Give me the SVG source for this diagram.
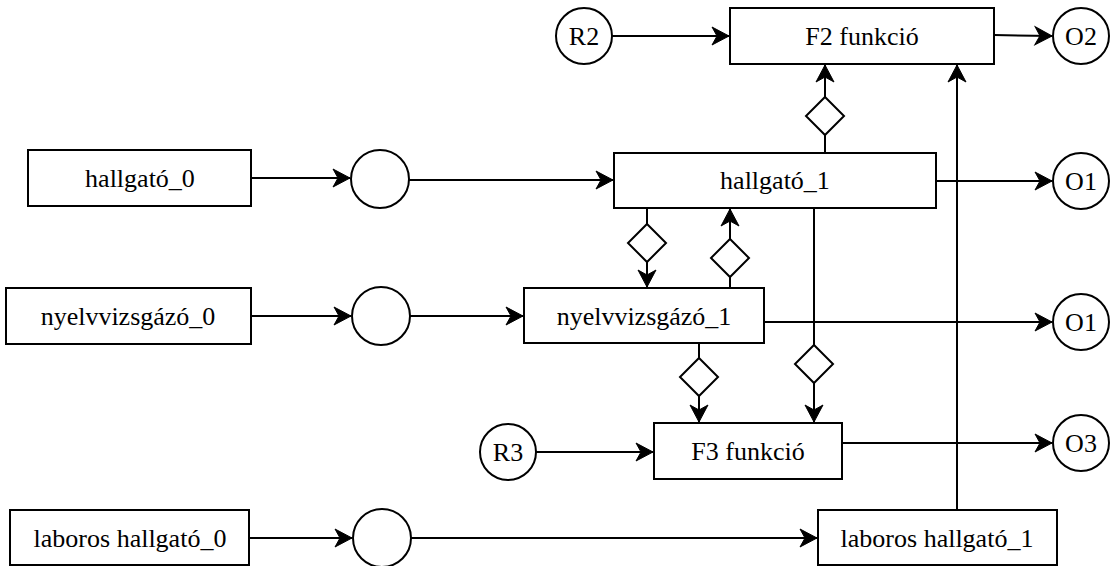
<svg xmlns="http://www.w3.org/2000/svg" width="1112" height="566" viewBox="0 0 1112 566">
<defs>
<marker id="arr" markerUnits="userSpaceOnUse" markerWidth="20" markerHeight="20" refX="17" refY="9" orient="auto" overflow="visible">
<path d="M0,0 L17,9 L0,18 L5,9 Z" fill="#000" stroke="#000" stroke-width="1"/>
</marker>
</defs>
<style>
.box{fill:#fff;stroke:#000;stroke-width:2}
.c{fill:#fff;stroke:#000;stroke-width:2}
.d{fill:#fff;stroke:#000;stroke-width:2}
.t{font-family:"Liberation Serif","Times New Roman",serif;font-size:26px;fill:#000;text-anchor:middle}
.e{fill:none;stroke:#000;stroke-width:2}
.a{marker-end:url(#arr)}
</style>
<rect width="1112" height="566" fill="#fff"/>
<g id="connectors">
<line class="e a" x1="612" y1="36" x2="729" y2="36"/>
<line class="e a" x1="994" y1="35" x2="1052" y2="36"/>
<line class="e" x1="825" y1="153" x2="825" y2="135"/>
<line class="e a" x1="825" y1="97" x2="825" y2="65"/>
<line class="e a" x1="957" y1="510" x2="957" y2="65"/>
<line class="e a" x1="251" y1="178" x2="350" y2="178"/>
<line class="e a" x1="409" y1="180" x2="613" y2="180"/>
<line class="e a" x1="936" y1="181" x2="1052" y2="181"/>
<line class="e" x1="647" y1="208" x2="647" y2="224"/>
<line class="e a" x1="647" y1="262" x2="647" y2="287"/>
<line class="e" x1="730" y1="288" x2="730" y2="277"/>
<line class="e a" x1="730" y1="239" x2="730" y2="209"/>
<line class="e" x1="814" y1="208" x2="814" y2="345"/>
<line class="e a" x1="814" y1="383" x2="814" y2="422"/>
<line class="e a" x1="251" y1="316" x2="351" y2="316"/>
<line class="e a" x1="410" y1="316" x2="523" y2="316"/>
<line class="e a" x1="764" y1="322" x2="1052" y2="322"/>
<line class="e" x1="699" y1="343" x2="699" y2="358"/>
<line class="e a" x1="699" y1="396" x2="699" y2="422"/>
<line class="e a" x1="536" y1="452" x2="653" y2="452"/>
<line class="e a" x1="842" y1="443" x2="1052" y2="443"/>
<line class="e a" x1="249" y1="538" x2="352" y2="538"/>
<line class="e a" x1="411" y1="538" x2="817" y2="538"/>
<path class="d" d="M825,97 L844,116 L825,135 L806,116 Z"/>
<path class="d" d="M647,224 L666,243 L647,262 L628,243 Z"/>
<path class="d" d="M730,239 L749,258 L730,277 L711,258 Z"/>
<path class="d" d="M814,345 L833,364 L814,383 L795,364 Z"/>
<path class="d" d="M699,358 L718,377 L699,396 L680,377 Z"/>
</g>
<g id="R2"><circle class="c" cx="584" cy="36" r="28"/><text class="t" x="584" y="45">R2</text></g>
<g id="F2"><rect class="box" x="730" y="8" width="264" height="56"/><text class="t" x="862" y="45">F2 funkció</text></g>
<g id="O2"><circle class="c" cx="1081" cy="36" r="28"/><text class="t" x="1081" y="45">O2</text></g>
<g id="hallgato0"><rect class="box" x="28" y="150" width="223" height="56"/><text class="t" x="140" y="187">hallgató_0</text></g>
<g id="j1"><circle class="c" cx="380" cy="179" r="29"/></g>
<g id="hallgato1"><rect class="box" x="614" y="153" width="322" height="55"/><text class="t" x="775" y="189">hallgató_1</text></g>
<g id="O1a"><circle class="c" cx="1081" cy="181" r="28"/><text class="t" x="1081" y="190">O1</text></g>
<g id="nyelv0"><rect class="box" x="6" y="288" width="245" height="56"/><text class="t" x="128" y="325">nyelvvizsgázó_0</text></g>
<g id="j2"><circle class="c" cx="381" cy="316" r="29"/></g>
<g id="nyelv1"><rect class="box" x="524" y="288" width="240" height="55"/><text class="t" x="644" y="325">nyelvvizsgázó_1</text></g>
<g id="O1b"><circle class="c" cx="1081" cy="322" r="28"/><text class="t" x="1081" y="331">O1</text></g>
<g id="R3"><circle class="c" cx="508" cy="452" r="28"/><text class="t" x="508" y="461">R3</text></g>
<g id="F3"><rect class="box" x="654" y="423" width="188" height="56"/><text class="t" x="748" y="460">F3 funkció</text></g>
<g id="O3"><circle class="c" cx="1081" cy="443" r="28"/><text class="t" x="1081" y="452">O3</text></g>
<g id="lab0"><rect class="box" x="10" y="510" width="239" height="55"/><text class="t" x="130" y="547">laboros hallgató_0</text></g>
<g id="j3"><circle class="c" cx="382" cy="538" r="29"/></g>
<g id="lab1"><rect class="box" x="818" y="510" width="239" height="55"/><text class="t" x="937" y="547">laboros hallgató_1</text></g>
</svg>
